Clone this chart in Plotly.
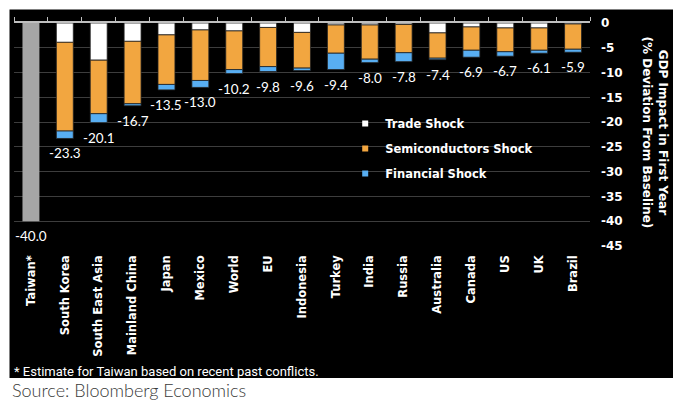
import plotly.graph_objects as go

categories = ["Taiwan*", "South Korea", "South East Asia", "Mainland China", "Japan", "Mexico",
              "World", "EU", "Indonesia", "Turkey", "India", "Russia", "Australia", "Canada",
              "US", "UK", "Brazil"]
taiwan_total = [-40.0]
trade = [None, -3.9, -7.5, -3.7, -2.4, -1.4, -1.6, -0.9, -1.9, -0.4, -0.4, -0.3, -2.0, -0.8, -1.0, -1.0, -0.2]
semis = [None, -17.9, -10.8, -12.6, -10.0, -10.2, -7.8, -7.9, -7.2, -5.7, -6.9, -5.7, -5.1, -4.7, -4.8, -4.5, -5.1]
financial = [None, -1.5, -1.8, -0.4, -1.1, -1.4, -0.8, -1.0, -0.5, -3.3, -0.7, -1.8, -0.3, -1.4, -0.9, -0.6, -0.6]
totals = [-40.0, -23.3, -20.1, -16.7, -13.5, -13.0, -10.2, -9.8, -9.6, -9.4, -8.0, -7.8, -7.4, -6.9, -6.7, -6.1, -5.9]
y_ticks = [0, -5, -10, -15, -20, -25, -30, -35, -40, -45]

C_TRADE = "#ffffff"
C_SEMI = "#f2a640"
C_FIN = "#58aef2"
C_TW = "#a6a6a6"
BOLD = "DejaVu Sans"

fig = go.Figure()
line = dict(color="#222222", width=0.8)
fig.add_bar(x=categories[:1], y=taiwan_total, marker=dict(color=C_TW, line=dict(width=0)),
            showlegend=False, hoverinfo="skip")
fig.add_bar(x=categories, y=trade, marker=dict(color=C_TRADE, line=line), name="Trade Shock", showlegend=False)
fig.add_bar(x=categories, y=semis, marker=dict(color=C_SEMI, line=line), name="Semiconductors Shock", showlegend=False)
fig.add_bar(x=categories, y=financial, marker=dict(color=C_FIN, line=line), name="Financial Shock", showlegend=False)

# legend entries (small square swatches)
for nm, col, grp in [("Trade Shock", C_TRADE, "a"), ("Semiconductors Shock", C_SEMI, "b"),
                     ("Financial Shock", C_FIN, "c")]:
    fig.add_scatter(x=[None], y=[None], mode="markers", xaxis="x2",
                    marker=dict(symbol="square", size=6, color=col),
                    name=nm, legendgroup=grp)

for c, t in zip(categories, totals):
    fig.add_annotation(x=c, y=t, xref="x", yref="y", text=f"{t:.1f}", showarrow=False,
                       yanchor="top", yshift=-5, font=dict(family="Lato", size=13.5, color="white"))

n = len(categories)
fig.update_layout(
    width=690, height=414,
    margin=dict(l=14, r=100, t=23, b=168),
    paper_bgcolor="white", plot_bgcolor="black",
    barmode="relative", bargap=0.5,
    showlegend=True,
    legend=dict(x=0.575, y=0.614, xanchor="left", yanchor="top", bgcolor="rgba(0,0,0,0)",
                font=dict(family=BOLD, size=11.5, color="white", weight="bold"),
                traceorder="grouped", tracegroupgap=6, itemwidth=30),
    xaxis=dict(type="category", categoryorder="array", categoryarray=categories,
               range=[-0.5, n - 0.5], tickangle=-90, ticks="", showgrid=False, showline=False,
               zeroline=False, ticklabelstandoff=6,
               tickfont=dict(family=BOLD, size=11.5, color="white", weight="bold")),
    xaxis2=dict(overlaying="x", side="top", anchor="y", type="linear", range=[-0.5, n - 0.5],
                tickvals=[i - 0.5 for i in range(n + 1)], showticklabels=False,
                ticks="outside", ticklen=4, tickwidth=1, tickcolor="#bfbfbf",
                showline=True, linecolor="#bfbfbf", linewidth=1.5, showgrid=False, zeroline=False),
    yaxis=dict(side="right", range=[-45, 0], tickvals=y_ticks, ticktext=[str(v) for v in y_ticks],
               showgrid=True, gridcolor="#3d3d3d", gridwidth=1, zeroline=False, ticks="",
               ticklabelstandoff=10, showline=False,
               tickfont=dict(family=BOLD, size=12, color="white", weight="bold")),
    shapes=[dict(type="rect", xref="paper", yref="paper", x0=-0.0078, x1=1.1441, y0=-0.5919, y1=1.0605,
                 fillcolor="black", line=dict(width=0), layer="below")],
)

fig.add_annotation(xref="paper", yref="paper", x=1.112, y=0.511, textangle=90, showarrow=False,
                   text="GDP Impact in First Year<br>(% Deviation From Baseline)",
                   font=dict(family=BOLD, size=12, color="white", weight="bold"),
                   xanchor="center", yanchor="middle")
fig.add_annotation(xref="paper", yref="paper", x=-0.0035, y=-0.565, xanchor="left", yanchor="middle",
                   showarrow=False, text="* Estimate for Taiwan based on recent past conflicts.",
                   font=dict(family="Roboto", size=13, color="white"))
fig.add_annotation(xref="paper", yref="paper", x=-0.0069, y=-0.6457, xanchor="left", yanchor="middle",
                   showarrow=False, text="Source: Bloomberg Economics",
                   font=dict(family="Lato", size=18, color="#3a3a3a", weight=300))

fig.write_html("out.html", config={"displayModeBar": False},
               post_script="document.body.style.margin='0';document.body.style.overflow='hidden';")
